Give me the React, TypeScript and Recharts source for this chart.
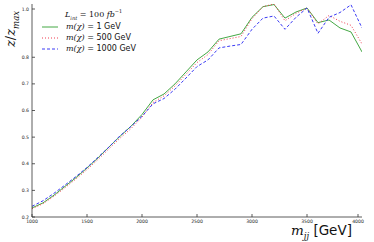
import { LineChart, Line, XAxis, YAxis } from 'recharts';

// m_jj grid in GeV
const mjj = [
  1000, 1100, 1200, 1300, 1400, 1500, 1600, 1700, 1800, 1900, 2000,
  2100, 2200, 2300, 2400, 2500, 2600, 2700, 2800, 2900, 3000,
  3100, 3200, 3300, 3400, 3500, 3600, 3700, 3800, 3900, 4000,
];

// z / z_max for each DM mass
const z1GeV = [
  0.234, 0.253, 0.282, 0.315, 0.348, 0.384, 0.422, 0.463, 0.503, 0.541, 0.585,
  0.640, 0.662, 0.700, 0.745, 0.790, 0.820, 0.868, 0.878, 0.888, 0.950,
  0.990, 0.998, 0.947, 0.970, 0.985, 0.930, 0.940, 0.910, 0.895, 0.820,
];
const z500GeV = [
  0.231, 0.250, 0.278, 0.310, 0.343, 0.378, 0.416, 0.456, 0.496, 0.532, 0.575,
  0.630, 0.655, 0.692, 0.736, 0.780, 0.810, 0.862, 0.870, 0.878, 0.945,
  0.990, 1.000, 0.937, 0.965, 0.985, 0.925, 0.957, 0.935, 0.920, 0.850,
];
const z1000GeV = [
  0.240, 0.261, 0.289, 0.320, 0.352, 0.386, 0.424, 0.463, 0.505, 0.540, 0.578,
  0.625, 0.645, 0.680, 0.722, 0.765, 0.790, 0.835, 0.842, 0.848, 0.905,
  0.947, 0.955, 0.905, 0.950, 0.985, 0.890, 0.950, 0.968, 0.997, 0.910,
];

const xTicks = [1000, 1500, 2000, 2500, 3000, 3500, 4000];
const yTicks = [0.2, 0.3, 0.4, 0.5, 0.6, 0.7, 0.8, 0.9, 1.0];

const series = [
  { key: 'z1', color: '#45a845', dash: undefined, mass: '1' },
  { key: 'z500', color: '#f03c50', dash: '1 2', mass: '500' },
  { key: 'z1000', color: '#3a3af5', dash: '3 2', mass: '1000' },
];

const data = mjj.map((m, i) => ({ m, z1: z1GeV[i], z500: z500GeV[i], z1000: z1000GeV[i] }));

const W = 374;
const H = 242;
const AXIS = '#333';
const mathFont = '"DejaVu Serif", serif';
const sansFont = '"DejaVu Sans", sans-serif';

const BottomTick = (p: any) => (
  <g>
    <line x1={p.x} x2={p.x} y1={p.y} y2={p.y - 3} stroke={AXIS} strokeWidth={0.8} />
    <text x={p.x} y={p.y + 6} textAnchor="middle" fontSize={4.6} fontFamily={sansFont} fill="#222">
      {p.payload.value}
    </text>
  </g>
);

const LeftTick = (p: any) => (
  <g>
    <line x1={p.x} x2={p.x + 3} y1={p.y} y2={p.y} stroke={AXIS} strokeWidth={0.8} />
    <text x={p.x - 3} y={p.y + 1.6} textAnchor="end" fontSize={4.6} fontFamily={sansFont} fill="#222">
      {p.payload.value.toFixed(1)}
    </text>
  </g>
);

const TopTick = (p: any) => (
  <line x1={p.x} x2={p.x} y1={p.y} y2={p.y + 3} stroke={AXIS} strokeWidth={0.8} />
);

const RightTick = (p: any) => (
  <line x1={p.x} x2={p.x - 3} y1={p.y} y2={p.y} stroke={AXIS} strokeWidth={0.8} />
);

function LegendBox() {
  return (
    <div style={{ fontFamily: mathFont, fontStyle: 'italic', fontSize: 8, color: '#111', lineHeight: '11px' }}>
      <div style={{ paddingLeft: 23, marginBottom: 1 }}>
        L<sub style={{ fontSize: 5, lineHeight: 0 }}>int</sub>
        <span style={{ fontStyle: 'normal' }}> = 100 </span>fb
        <sup style={{ fontSize: 5, fontStyle: 'normal', lineHeight: 0 }}>−1</sup>
      </div>
      {series.map(s => (
        <div key={s.key} style={{ display: 'flex', alignItems: 'center', height: 11 }}>
          <svg width={16} height={4} style={{ marginRight: 8 }}>
            <line x1={0} x2={16} y1={2} y2={2} stroke={s.color} strokeWidth={1} strokeDasharray={s.dash} />
          </svg>
          <span>m(χ)</span>
          <span style={{ fontStyle: 'normal' }}>&nbsp;=&nbsp;</span>
          <span style={{ fontStyle: 'normal', fontFamily: sansFont }}>{s.mass} GeV</span>
        </div>
      ))}
    </div>
  );
}

export default function App() {
  return (
    <div style={{ position: 'absolute', left: 0, top: 0, width: W, height: H, background: '#fff' }}>
      <LineChart width={W} height={H} data={data} margin={{ top: 4, right: 12, bottom: 0, left: 0 }}>
        <XAxis
          dataKey="m" type="number" domain={[1000, 4000]} ticks={xTicks} allowDataOverflow
          height={25} tickSize={0} tickMargin={0} tick={<BottomTick />} tickLine={false}
          axisLine={{ stroke: AXIS, strokeWidth: 0.8 }}
        />
        <XAxis
          xAxisId="top" orientation="top" dataKey="m" type="number" domain={[1000, 4000]} ticks={xTicks}
          allowDataOverflow height={0} tickSize={0} tickMargin={0} tick={<TopTick />} tickLine={false}
          axisLine={{ stroke: AXIS, strokeWidth: 0.8 }}
        />
        <YAxis
          type="number" domain={[0.2, 1.0]} ticks={yTicks} allowDataOverflow width={32}
          tickSize={0} tickMargin={0} tick={<LeftTick />} tickLine={false}
          axisLine={{ stroke: AXIS, strokeWidth: 0.8 }}
        />
        <YAxis
          yAxisId="right" orientation="right" type="number" domain={[0.2, 1.0]} ticks={yTicks}
          allowDataOverflow width={0} tickSize={0} tickMargin={0} tick={<RightTick />} tickLine={false}
          axisLine={{ stroke: AXIS, strokeWidth: 0.8 }}
        />
        {series.map(s => (
          <Line
            key={s.key} dataKey={s.key} type="linear" stroke={s.color} strokeWidth={1}
            strokeDasharray={s.dash} dot={false} isAnimationActive={false}
          />
        ))}
      </LineChart>
      <div style={{ position: 'absolute', left: 42, top: 9 }}>
        <LegendBox />
      </div>
      <div
        style={{
          position: 'absolute', left: 12, top: 29, transform: 'translate(-50%, -50%) rotate(-90deg)',
          fontFamily: mathFont, fontStyle: 'italic', fontSize: 13, whiteSpace: 'nowrap', color: '#111',
        }}
      >
        z<span style={{ fontStyle: 'normal' }}>/</span>z<sub style={{ fontSize: 8.5 }}>max</sub>
      </div>
      <div
        style={{
          position: 'absolute', left: 291, top: 222, whiteSpace: 'nowrap', color: '#111', fontSize: 13.5,
          fontFamily: sansFont,
        }}
      >
        <span style={{ fontFamily: mathFont, fontStyle: 'italic' }}>
          m<sub style={{ fontSize: 8.5 }}>jj</sub>
        </span>{' '}[GeV]
      </div>
    </div>
  );
}
